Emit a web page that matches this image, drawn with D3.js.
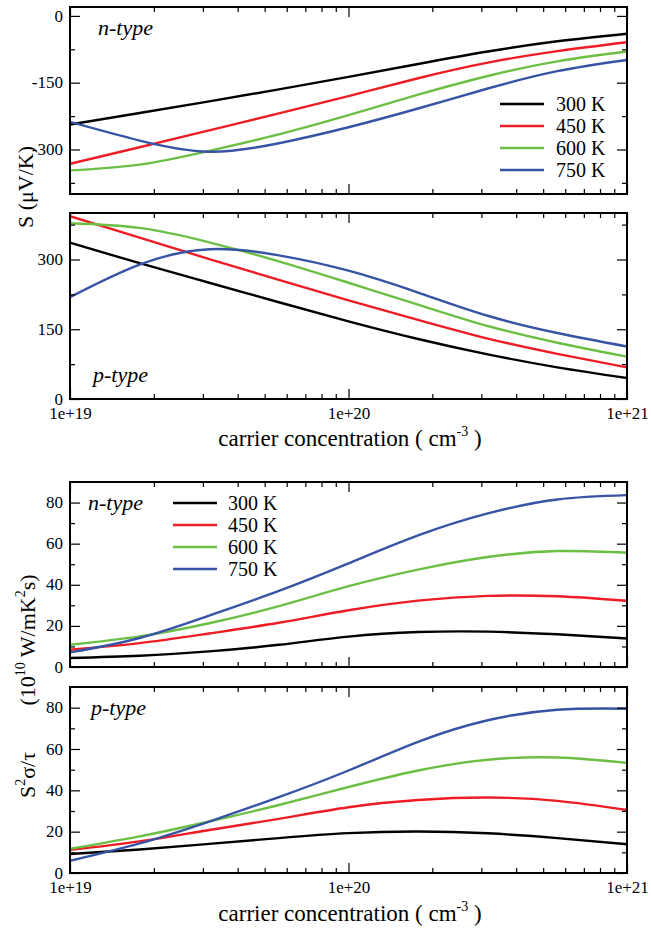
<!DOCTYPE html>
<html>
  <head>
	<meta charset="utf-8">
	<script src="https://d3js.org/d3.v7.min.js"></script>
	<style>
	  body { margin: 0; background: #fff; }
	</style>
  </head>

<body>
	<div id="chart"></div>
  <script>
	// carrier concentration (cm^-3), sampled every quarter decade
	var conc = [1e19, 1.778e19, 3.162e19, 5.623e19, 1e20, 1.778e20, 3.162e20, 5.623e20, 1e21];
	var temps = ["300 K", "450 K", "600 K", "750 K"];
	var colors = ["#000000", "#ee1c24", "#6cbf45", "#3753a4"];

	// Seebeck, n-type (uV/K)
	var sN300 = [-244, -218, -192, -165, -137, -108, -80, -57, -40];
	var sN450 = [-332, -295, -257, -219, -180, -140, -105, -79, -59];
	var sN600 = [-347, -334, -303, -266, -223, -177, -135, -102, -80];
	var sN750 = [-238, -280, -305, -286, -250, -208, -163, -124, -99];

	// Seebeck, p-type (uV/K)
	var sP300 = [336, 292, 250, 208, 167, 129, 96, 68, 45];
	var sP450 = [393, 347, 301, 256, 212, 170, 130, 97, 68];
	var sP600 = [378, 368, 337, 296, 250, 203, 157, 121, 91];
	var sP750 = [219, 289, 322, 309, 276, 229, 179, 142, 113];

	// power factor S^2 sigma / tau, n-type (1e10 W/mK^2 s)
	var pfN300 = [4.4, 5.5, 7.6, 10.8, 14.8, 17.0, 17.2, 15.9, 13.9];
	var pfN450 = [8.4, 11.6, 16.3, 21.5, 27.6, 32.3, 34.6, 34.4, 32.2];
	var pfN600 = [10.8, 14.9, 21.3, 29.6, 39.3, 47.4, 53.5, 56.4, 55.6];
	var pfN750 = [7.1, 14.1, 25.0, 37.0, 50.4, 64.0, 74.7, 81.5, 83.6];

	// power factor, p-type
	var pfP300 = [9.2, 11.4, 14.1, 16.9, 19.3, 20.1, 19.2, 16.9, 13.9];
	var pfP450 = [11.2, 15.3, 20.8, 26.2, 31.8, 35.3, 36.5, 34.9, 30.5];
	var pfP600 = [11.7, 17.7, 24.9, 32.9, 41.6, 49.6, 54.8, 55.9, 53.3];
	var pfP750 = [5.9, 14.3, 24.9, 36.7, 49.6, 63.5, 73.9, 79.0, 79.5];

	var xMajor = [1e19, 1e20, 1e21];

	var width = 651, height = 932;
	var left = 70, right = 627;
	var serif = "Liberation Serif, Tinos, Times New Roman, Times, DejaVu Serif, serif";

	var svg = d3.select("#chart")
		.append("svg")
			.attr("width", width)
			.attr("height", height);

	var x = d3.scaleLog()
		.domain([1e19, 1e21])
		.range([left, right]);

	var xMinor = [];
	[1e19, 1e20].forEach(function(dec) {
		for (var k = 2; k <= 9; k++) xMinor.push(dec * k);
	});

	var panels = [
		{ top: 7, bottom: 194, domain: [-400, 20], major: [-300, -150, 0], minor: [-375, -225, -75],
		  series: [sN300, sN450, sN600, sN750], tag: "n-type", tagX: 98, tagY: 35,
		  legend: { x1: 500, x2: 544, tx: 556, y0: 104 } },
		{ top: 213, bottom: 399, domain: [0, 400], major: [0, 150, 300], minor: [75, 225, 375],
		  series: [sP300, sP450, sP600, sP750], tag: "p-type", tagX: 93, tagY: 382, xlabels: true },
		{ top: 482, bottom: 667, domain: [0, 90], major: [0, 20, 40, 60, 80], minor: [10, 30, 50, 70],
		  series: [pfN300, pfN450, pfN600, pfN750], tag: "n-type", tagX: 88, tagY: 510,
		  legend: { x1: 173, x2: 217, tx: 228, y0: 503 } },
		{ top: 687, bottom: 873, domain: [0, 90], major: [0, 20, 40, 60, 80], minor: [10, 30, 50, 70],
		  series: [pfP300, pfP450, pfP600, pfP750], tag: "p-type", tagX: 91, tagY: 715, xlabels: true }
	];

	panels.forEach(function(p) {
		var y = d3.scaleLinear().domain(p.domain).range([p.bottom, p.top]);
		var g = svg.append("g");

		var line = d3.line()
			.x(function(d, i) { return x(conc[i]); })
			.y(function(d) { return y(d); })
			.curve(d3.curveNatural);

		var clipId = "clip" + p.top;
		g.append("clipPath").attr("id", clipId)
			.append("rect")
			.attr("x", left).attr("y", p.top)
			.attr("width", right - left).attr("height", p.bottom - p.top);

		g.append("g").attr("clip-path", "url(#" + clipId + ")")
			.selectAll("path")
			.data(p.series)
			.enter().append("path")
			.attr("fill", "none")
			.attr("stroke", function(d, i) { return colors[i]; })
			.attr("stroke-width", 2.4)
			.attr("d", line);

		// ticks, all pointing inward
		function tickAxis(axis, tx, ty) {
			var a = g.append("g").attr("transform", "translate(" + tx + "," + ty + ")").call(axis);
			a.attr("font-family", null).attr("font-size", null);
			a.select(".domain").remove();
			a.selectAll("line").attr("stroke", "#000").attr("stroke-width", 1.2);
			return a;
		}
		var bx = tickAxis(d3.axisBottom(x).tickValues(xMajor).tickSize(-10)
			.tickFormat(function(d) { return "1e+" + Math.round(Math.log10(d)); }), 0, p.bottom);
		bx.selectAll("text")
			.attr("y", 20).attr("dy", 0)
			.attr("font-size", 17)
			.style("display", p.xlabels ? null : "none");
		tickAxis(d3.axisBottom(x).tickValues(xMinor).tickSize(-5).tickFormat(""), 0, p.bottom);
		tickAxis(d3.axisTop(x).tickValues(xMajor).tickSize(-10).tickFormat(""), 0, p.top);
		tickAxis(d3.axisTop(x).tickValues(xMinor).tickSize(-5).tickFormat(""), 0, p.top);

		var ly = tickAxis(d3.axisLeft(y).tickValues(p.major).tickSize(-10).tickFormat(d3.format("d")), left, 0);
		ly.selectAll("text")
			.attr("x", -7).attr("dy", "0.3em")
			.attr("font-size", 17)
			.text(function(d) { return d < 0 ? "-" + Math.abs(d) : d; });
		tickAxis(d3.axisLeft(y).tickValues(p.minor).tickSize(-5).tickFormat(""), left, 0);
		tickAxis(d3.axisRight(y).tickValues(p.major).tickSize(-10).tickFormat(""), right, 0);
		tickAxis(d3.axisRight(y).tickValues(p.minor).tickSize(-5).tickFormat(""), right, 0);

		g.append("rect")
			.attr("x", left).attr("y", p.top)
			.attr("width", right - left).attr("height", p.bottom - p.top)
			.attr("fill", "none").attr("stroke", "#000").attr("stroke-width", 2);

		g.append("text")
			.attr("x", p.tagX).attr("y", p.tagY)
			.attr("font-size", 22).attr("font-style", "italic")
			.text(p.tag);

		if (p.legend) {
			var lg = g.selectAll(".leg").data(temps).enter().append("g");
			lg.append("line")
				.attr("x1", p.legend.x1).attr("x2", p.legend.x2)
				.attr("y1", function(d, i) { return p.legend.y0 + i * 22; })
				.attr("y2", function(d, i) { return p.legend.y0 + i * 22; })
				.attr("stroke", function(d, i) { return colors[i]; })
				.attr("stroke-width", 2.4);
			lg.append("text")
				.attr("x", p.legend.tx)
				.attr("y", function(d, i) { return p.legend.y0 + i * 22; })
				.attr("dy", "0.35em")
				.attr("font-size", 20)
				.text(function(d) { return d; });
		}
	});

	// axis titles
	function xTitle(yb) {
		var t = svg.append("text").attr("x", 350).attr("y", yb)
			.attr("text-anchor", "middle").attr("font-size", 23);
		t.append("tspan").text("carrier concentration ( cm");
		t.append("tspan").attr("dy", -10).attr("font-size", 14).text("-3");
		t.append("tspan").attr("dy", 10).text(" )");
	}
	xTitle(446);
	xTitle(921);

	svg.append("text")
		.attr("transform", "translate(33,187) rotate(-90)")
		.attr("text-anchor", "middle").attr("font-size", 22)
		.text("S (\u03bcV/K)");

	var t1 = svg.append("text")
		.attr("transform", "translate(35,775) rotate(-90)")
		.attr("text-anchor", "middle").attr("font-size", 22);
	t1.append("tspan").text("S");
	t1.append("tspan").attr("dy", -10).attr("font-size", 14).text("2");
	t1.append("tspan").attr("dy", 10).text("\u03c3/\u03c4");

	var t2 = svg.append("text")
		.attr("transform", "translate(35,640) rotate(-90)")
		.attr("text-anchor", "middle").attr("font-size", 22);
	t2.append("tspan").text("(10");
	t2.append("tspan").attr("dy", -10).attr("font-size", 14).text("10");
	t2.append("tspan").attr("dy", 10).text(" W/mK");
	t2.append("tspan").attr("dy", -10).attr("font-size", 14).text("2");
	t2.append("tspan").attr("dy", 10).text("s)");

	svg.attr("font-family", serif);
	svg.selectAll("text").attr("fill", "#000");
  </script>
</body>
</html>
